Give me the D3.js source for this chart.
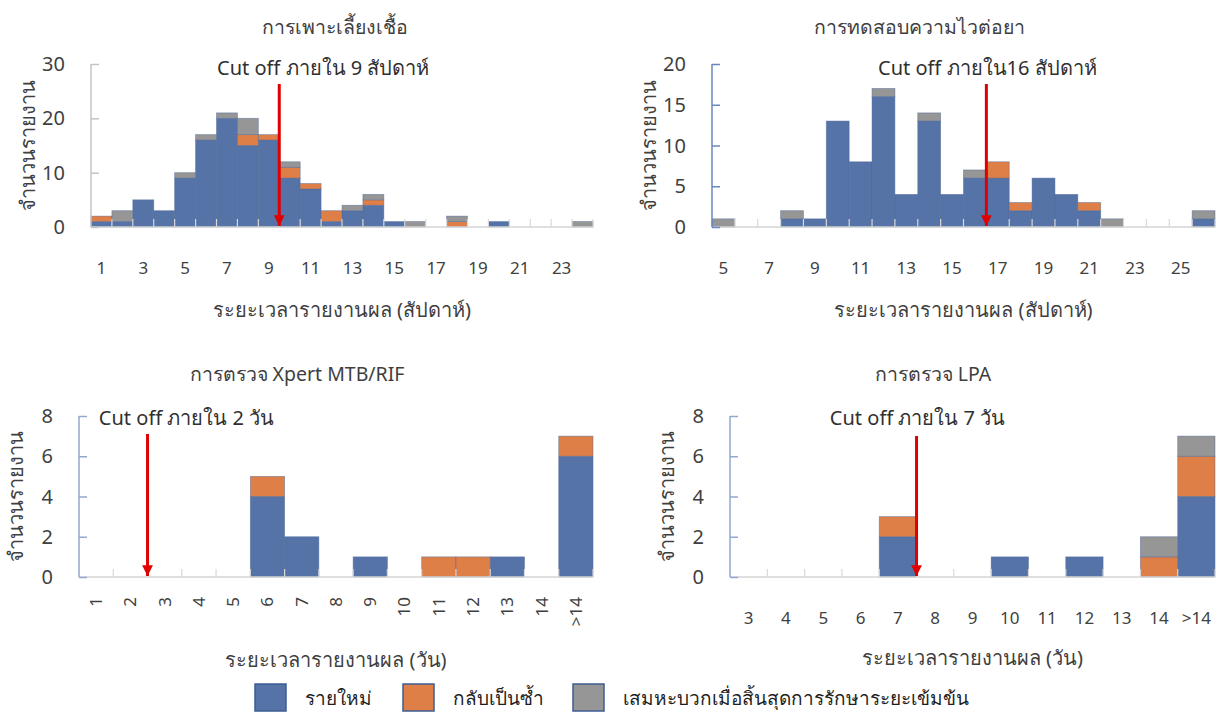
<!DOCTYPE html>
<html>
<head>
<meta charset="utf-8">
<script src="https://cdn.jsdelivr.net/npm/d3@7"></script>
<style>
  html, body { margin: 0; padding: 0; background: #ffffff; }
  svg { display: block; font-family: "Noto Sans", "Open Sans", sans-serif; }
</style>
</head>
<body>
<svg id="chart" width="1224" height="720"></svg>
<script>
// ---------- DATA ----------
const seriesNames = ["รายใหม่", "กลับเป็นซ้ำ", "เสมหะบวกเมื่อสิ้นสุดการรักษาระยะเข้มข้น"];

const cultureCats    = ["1","2","3","4","5","6","7","8","9","10","11","12","13","14","15","16","17","18","19","20","21","22","23","24"];
const cultureNew     = [1,1,5,3,9,16,20,15,16,9,7,1,3,4,1,0,0,0,0,1,0,0,0,0];
const cultureRelapse = [1,0,0,0,0,0,0,2,1,2,1,2,0,1,0,0,0,1,0,0,0,0,0,0];
const cultureSmear   = [0,2,0,0,1,1,1,3,0,1,0,0,1,1,0,1,0,1,0,0,0,0,0,1];
const cultureTickLabels = ["1","3","5","7","9","11","13","15","17","19","21","23"];
const cultureYTicks = [0,10,20,30];

const dstCats    = ["5","6","7","8","9","10","11","12","13","14","15","16","17","18","19","20","21","22","23","24","25","26"];
const dstNew     = [0,0,0,1,1,13,8,16,4,13,4,6,6,2,6,4,2,0,0,0,0,1];
const dstRelapse = [0,0,0,0,0,0,0,0,0,0,0,0,2,1,0,0,1,0,0,0,0,0];
const dstSmear   = [1,0,0,1,0,0,0,1,0,1,0,1,0,0,0,0,0,1,0,0,0,1];
const dstTickLabels = ["5","7","9","11","13","15","17","19","21","23","25"];
const dstYTicks = [0,5,10,15,20];

const xpertCats    = ["1","2","3","4","5","6","7","8","9","10","11","12","13","14",">14"];
const xpertNew     = [0,0,0,0,0,4,2,0,1,0,0,0,1,0,6];
const xpertRelapse = [0,0,0,0,0,1,0,0,0,0,1,1,0,0,1];
const xpertSmear   = [0,0,0,0,0,0,0,0,0,0,0,0,0,0,0];
const xpertYTicks = [0,2,4,6,8];

const lpaCats    = ["3","4","5","6","7","8","9","10","11","12","13","14",">14"];
const lpaNew     = [0,0,0,0,2,0,0,1,0,1,0,0,4];
const lpaRelapse = [0,0,0,0,1,0,0,0,0,0,0,1,2];
const lpaSmear   = [0,0,0,0,0,0,0,0,0,0,0,1,1];
const lpaYTicks = [0,2,4,6,8];

const titles = ["การเพาะเลี้ยงเชื้อ", "การทดสอบความไวต่อยา", "การตรวจ Xpert MTB/RIF", "การตรวจ LPA"];
const cutoffCats = ["9", "16", "2", "7"];
const cutoffTexts = ["Cut off ภายใน 9 สัปดาห์", "Cut off ภายใน16 สัปดาห์", "Cut off ภายใน 2 วัน", "Cut off ภายใน 7 วัน"];
const xTitles = ["ระยะเวลารายงานผล (สัปดาห์)", "ระยะเวลารายงานผล (สัปดาห์)", "ระยะเวลารายงานผล (วัน)", "ระยะเวลารายงานผล (วัน)"];
const yTitle = "จำนวนรายงาน";

// ---------- STYLE / LAYOUT ----------
const colors = ["#5673a8", "#df7f48", "#969696"];
const textColor = "#3f3f3f";

const panels = [
  { cats: cultureCats, series: [cultureNew, cultureRelapse, cultureSmear], xLabels: cultureTickLabels, yTicks: cultureYTicks,
    x0: 91, x1: 593, yb: 227, yt: 64, titleX: 335, titleY: 27, cutDx: 44, cutY: 68, arrowTop: 84,
    yAxisColor: "#c4c4c4", rotate: false, xLabelY: 268, xTitleY: 310 },
  { cats: dstCats, series: [dstNew, dstRelapse, dstSmear], xLabels: dstTickLabels, yTicks: dstYTicks,
    x0: 712, x1: 1215, yb: 227, yt: 64, titleX: 919, titleY: 27, cutDx: 1, cutY: 68, arrowTop: 84,
    yAxisColor: "#6a88bd", rotate: false, xLabelY: 268, xTitleY: 310 },
  { cats: xpertCats, series: [xpertNew, xpertRelapse, xpertSmear], xLabels: xpertCats, yTicks: xpertYTicks,
    x0: 79, x1: 593, yb: 577, yt: 416, titleX: 297, titleY: 374, cutDx: 39, cutY: 418, arrowTop: 434,
    yAxisColor: "#93a8cd", rotate: true, xLabelY: 597, xTitleY: 660 },
  { cats: lpaCats, series: [lpaNew, lpaRelapse, lpaSmear], xLabels: lpaCats, yTicks: lpaYTicks,
    x0: 730, x1: 1215, yb: 577, yt: 416, titleX: 933, titleY: 374, cutDx: 1, cutY: 418, arrowTop: 436,
    yAxisColor: "#93a8cd", rotate: false, xLabelY: 618, xTitleY: 658 }
];

const svg = d3.select("#chart");

svg.append("defs").append("marker")
  .attr("id", "arrowhead")
  .attr("viewBox", "0 0 10 10")
  .attr("refX", 10).attr("refY", 5)
  .attr("markerWidth", 3.6).attr("markerHeight", 3.6)
  .attr("markerUnits", "strokeWidth")
  .attr("orient", "auto")
  .append("path").attr("d", "M0,0 L10,5 L0,10 Z").attr("fill", "#e00000");

panels.forEach((p, i) => {
  const g = svg.append("g");
  const x = d3.scaleBand().domain(p.cats).range([p.x0, p.x1]).padding(0);
  const yMax = p.yTicks[p.yTicks.length - 1];
  const y = d3.scaleLinear().domain([0, yMax]).range([p.yb, p.yt]);

  const rows = p.cats.map((c, j) => ({ cat: c, s0: p.series[0][j], s1: p.series[1][j], s2: p.series[2][j] }));
  const stacked = d3.stack().keys(["s0", "s1", "s2"])(rows);

  // bars
  stacked.forEach((layer, k) => {
    g.append("g").selectAll("rect")
      .data(layer.filter(d => d[1] - d[0] > 0))
      .join("rect")
      .attr("x", d => x(d.data.cat))
      .attr("width", x.bandwidth())
      .attr("y", d => y(d[1]))
      .attr("height", d => y(d[0]) - y(d[1]))
      .attr("fill", colors[k])
      .attr("stroke", "#4a6698")
      .attr("stroke-opacity", 0.55)
      .attr("stroke-width", 0.8);
  });

  // x axis line and boundary ticks
  g.append("line")
    .attr("x1", p.x0).attr("x2", p.x1).attr("y1", p.yb).attr("y2", p.yb)
    .attr("stroke", "#d4d4d4").attr("stroke-width", 1.5);
  const bounds = p.cats.map(c => x(c) + x.bandwidth());
  g.append("g").selectAll("line").data(bounds).join("line")
    .attr("x1", d => d).attr("x2", d => d)
    .attr("y1", p.yb).attr("y2", p.yb - 8)
    .attr("stroke", "#d8d8d8").attr("stroke-width", 1.2);

  // y axis
  const yAxis = d3.axisRight(y).tickValues(p.yTicks).tickSize(8).tickFormat("");
  const ya = g.append("g").attr("transform", `translate(${p.x0},0)`).call(yAxis);
  ya.select(".domain").attr("stroke", p.yAxisColor).attr("stroke-width", 1.5).attr("d", `M0,${p.yt}V${p.yb}`);
  ya.selectAll(".tick line").attr("stroke", p.yAxisColor).attr("stroke-width", 1.5);
  g.append("g").selectAll("text").data(p.yTicks).join("text")
    .attr("x", p.x0 - 26).attr("y", d => y(d))
    .attr("dy", "0.35em").attr("text-anchor", "end")
    .attr("font-size", 20).attr("fill", textColor)
    .text(d => d);

  // x tick labels
  const xl = g.append("g").selectAll("text").data(p.xLabels).join("text")
    .attr("font-size", 17).attr("fill", textColor)
    .text(d => d);
  if (p.rotate) {
    xl.attr("transform", d => `translate(${x(d) + x.bandwidth() / 2},${p.xLabelY}) rotate(-90)`)
      .attr("text-anchor", "end").attr("dy", "0.35em");
  } else {
    xl.attr("x", d => x(d) + x.bandwidth() / 2).attr("y", p.xLabelY)
      .attr("text-anchor", "middle").attr("dy", "0.35em");
  }

  // axis titles
  g.append("text")
    .attr("x", (p.x0 + p.x1) / 2).attr("y", p.xTitleY).attr("dy", "0.35em")
    .attr("text-anchor", "middle").attr("font-size", 20).attr("fill", textColor)
    .text(xTitles[i]);
  g.append("text")
    .attr("transform", `translate(${p.x0 - 63},${(p.yt + p.yb) / 2}) rotate(-90)`)
    .attr("dy", "0.35em").attr("text-anchor", "middle")
    .attr("font-size", 20).attr("fill", textColor)
    .text(yTitle);

  // chart title
  g.append("text")
    .attr("x", p.titleX).attr("y", p.titleY).attr("dy", "0.35em")
    .attr("text-anchor", "middle").attr("font-size", 19.5).attr("fill", textColor)
    .text(titles[i]);

  // cut-off arrow + label
  const ax = x(cutoffCats[i]) + x.bandwidth();
  g.append("line")
    .attr("x1", ax).attr("x2", ax).attr("y1", p.arrowTop).attr("y2", p.yb - 1)
    .attr("stroke", "#e00000").attr("stroke-width", 3)
    .attr("marker-end", "url(#arrowhead)");
  g.append("text")
    .attr("x", ax + p.cutDx).attr("y", p.cutY).attr("dy", "0.35em")
    .attr("text-anchor", "middle").attr("font-size", 20).attr("fill", "#303030")
    .text(cutoffTexts[i]);
});

// legend
const legendX = [255, 403, 573];
const lg = svg.append("g");
seriesNames.forEach((name, k) => {
  lg.append("rect")
    .attr("x", legendX[k]).attr("y", 684).attr("width", 31).attr("height", 27)
    .attr("fill", colors[k]).attr("stroke", "#3e5c92").attr("stroke-width", 1.5);
  lg.append("text")
    .attr("x", legendX[k] + 50).attr("y", 698).attr("dy", "0.35em")
    .attr("font-size", 19).attr("fill", "#1f1f1f")
    .text(name);
});
</script>
</body>
</html>
